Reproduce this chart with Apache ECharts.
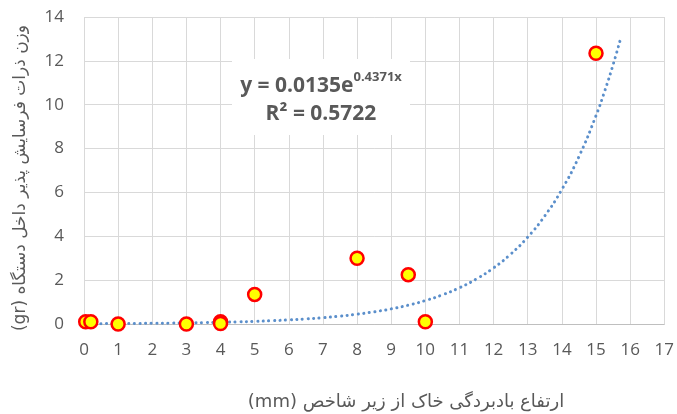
<!DOCTYPE html>
<html>
<head>
<meta charset="utf-8">
<script src="https://cdn.jsdelivr.net/npm/echarts@6/dist/echarts.min.js"></script>
<style>html,body{margin:0;padding:0;background:#fff}#c{width:677px;height:414px}</style>
</head>
<body>
<div id="c"></div>
<script>
// Observed data points (x: mm, y: gr)
const pointX = [0.05, 0.2, 1, 3, 4, 4, 5, 8, 9.5, 10, 15];
const pointY = [0.1, 0.1, 0, 0, 0.1, 0.02, 1.35, 3.0, 2.25, 0.1, 12.35];
// Trendline samples
const trendX = [0, 0.5, 1, 1.5, 2, 2.5, 3, 3.5, 4, 4.5, 5, 5.5, 6, 6.5, 7, 7.5, 8, 8.5, 9, 9.5, 10, 10.5, 11, 11.5, 12, 12.5, 13, 13.5, 14, 14.5, 15, 15.25, 15.5, 15.7];
const trendY = [0.0135, 0.0168, 0.0209, 0.026, 0.0324, 0.0403, 0.0501, 0.0623, 0.0776, 0.0965, 0.120, 0.149, 0.186, 0.232, 0.288, 0.358, 0.446, 0.555, 0.690, 0.859, 1.068, 1.329, 1.654, 2.058, 2.560, 3.185, 3.963, 4.931, 6.136, 7.635, 9.500, 10.60, 11.82, 12.90];
const xTicks = {min: 0, max: 17, interval: 1};
const yTicks = {min: 0, max: 14, interval: 2};
const xTitle = 'ارتفاع بادبردگی خاک از زیر شاخص (mm)';
const yTitle = 'وزن ذرات فرسایش پذیر داخل دستگاه (gr)';
const eqMain = 'y = 0.0135e';
const eqSup = '0.4371x';
const eqR2 = 'R² = 0.5722';

const chart = echarts.init(document.getElementById('c'), null, {renderer: 'canvas'});
const gray = '#595959';
const font = '"Open Sans", "DejaVu Sans", sans-serif';
chart.setOption({
  animation: false,
  backgroundColor: '#fff',
  grid: {left: 84, right: 10, top: 17, bottom: 90},
  xAxis: {
    type: 'value', min: xTicks.min, max: xTicks.max, interval: xTicks.interval,
    axisLine: {show: true, lineStyle: {color: '#BFBFBF'}},
    axisTick: {show: false},
    axisLabel: {color: gray, fontSize: 17, fontFamily: font, margin: 18},
    splitLine: {show: true, lineStyle: {color: '#D9D9D9'}}
  },
  yAxis: {
    type: 'value', min: yTicks.min, max: yTicks.max, interval: yTicks.interval,
    axisLine: {show: false},
    axisTick: {show: false},
    axisLabel: {color: gray, fontSize: 17, fontFamily: font, margin: 20},
    splitLine: {show: true, lineStyle: {color: '#D9D9D9'}}
  },
  series: [
    {
      type: 'line', data: trendX.map((x, i) => [x, trendY[i]]),
      showSymbol: false, smooth: true, silent: true,
      lineStyle: {color: '#5B8FCB', width: 3, type: [0.1, 5.5], cap: 'round'},
      z: 2
    },
    {
      type: 'scatter', data: pointX.map((x, i) => [x, pointY[i]]),
      symbol: 'circle', symbolSize: 13,
      itemStyle: {color: '#FFFF00', borderColor: '#FF0000', borderWidth: 2.5, opacity: 1},
      z: 3
    }
  ],
  graphic: [
    {
      type: 'rect', shape: {x: 232, y: 59, width: 178, height: 76},
      style: {fill: '#fff'}, z: 10
    },
    {
      type: 'text', x: 321, y: 84, z: 11,
      style: {
        text: '{m|' + eqMain + '}{s|' + eqSup + '}',
        align: 'center', verticalAlign: 'middle',
        rich: {
          m: {fontSize: 21, fontWeight: 'bold', fill: gray, fontFamily: font, lineHeight: 26, verticalAlign: 'bottom'},
          s: {fontSize: 13, fontWeight: 'bold', fill: gray, fontFamily: font, lineHeight: 26, verticalAlign: 'top', padding: [0, 0, 12, 0]}
        }
      }
    },
    {
      type: 'text', x: 321, y: 114, z: 11,
      style: {text: eqR2, align: 'center', verticalAlign: 'middle', fontSize: 21, fontWeight: 'bold', fill: gray, fontFamily: font}
    },
    {
      type: 'text', x: 406, y: 402, z: 11,
      style: {text: '\u202B' + xTitle + '\u202C', align: 'center', verticalAlign: 'middle', fontSize: 18, fill: gray, fontFamily: '"DejaVu Sans", sans-serif'}
    },
    {
      type: 'text', x: 21, y: 178, rotation: Math.PI / 2, z: 11,
      style: {text: '\u202B' + yTitle + '\u202C', align: 'center', verticalAlign: 'middle', fontSize: 17, fill: gray, fontFamily: '"DejaVu Sans", sans-serif'}
    }
  ]
});
</script>
</body>
</html>
